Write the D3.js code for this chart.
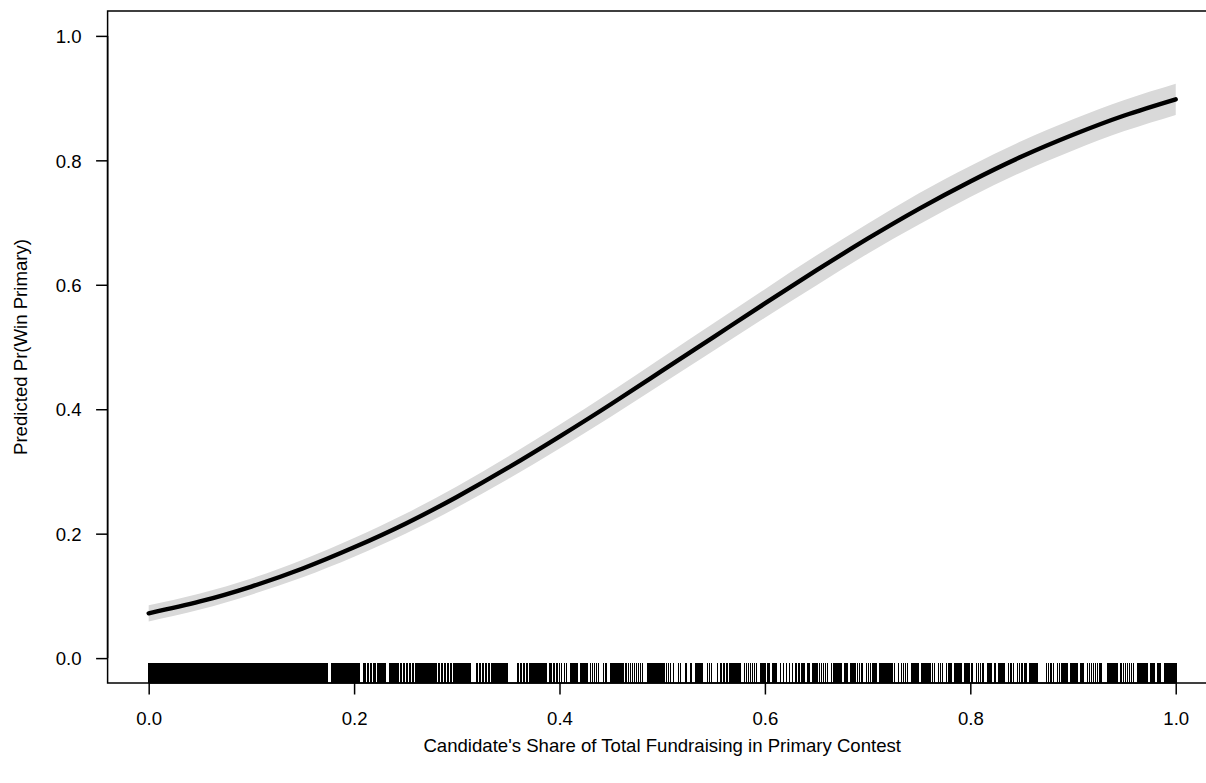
<!DOCTYPE html>
<html>
<head>
<meta charset="utf-8">
<script src="https://cdn.jsdelivr.net/npm/d3@7"></script>
<style>
  html, body { margin: 0; padding: 0; background: #fff; }
  svg { display: block; }
  text { font-family: "Liberation Sans", Arial, sans-serif; fill: #000; }
</style>
</head>
<body>
<div id="chart"></div>
<script>
// ---- data ----
const fundShare = [0, .05, .1, .15, .2, .25, .3, .35, .4, .45, .5, .55, .6, .65, .7, .75, .8, .85, .9, .95, 1];
const predWin   = [.072, .091, .115, .144, .178, .216, .259, .306, .356, .408, .462, .516, .570, .623, .674, .722, .766, .806, .841, .872, .898];
const ciLower   = [.059, .078, .102, .130, .163, .200, .242, .288, .337, .388, .441, .494, .547, .599, .650, .697, .741, .781, .816, .847, .873];
const ciUpper   = [.085, .104, .128, .158, .193, .232, .276, .324, .375, .428, .483, .538, .593, .647, .698, .747, .791, .831, .866, .897, .923];
const xTickValues = [0, 0.2, 0.4, 0.6, 0.8, 1.0];
const yTickValues = [0, 0.2, 0.4, 0.6, 0.8, 1.0];
const xTitle = "Candidate's Share of Total Fundraising in Primary Contest";
const yTitle = "Predicted Pr(Win Primary)";
// observed fundraising shares (rug)
const rugShare = [
.000,.001,.002,.003,.004,.005,.006,.007,.008,.009,.010,.011,.012,.013,.014,.015,.016,.017,.018,.019,
.020,.021,.022,.023,.024,.025,.026,.027,.028,.029,.030,.031,.032,.033,.034,.035,.036,.037,.038,.039,
.040,.041,.042,.043,.044,.045,.046,.047,.048,.049,.050,.051,.052,.053,.054,.055,.056,.057,.058,.059,
.060,.061,.062,.063,.064,.065,.066,.067,.068,.069,.070,.071,.072,.073,.074,.075,.076,.077,.078,.079,
.080,.081,.082,.083,.084,.085,.086,.087,.088,.089,.090,.091,.092,.093,.094,.095,.096,.097,.098,.099,
.100,.101,.102,.103,.104,.105,.106,.107,.108,.109,.110,.111,.112,.113,.114,.115,.116,.117,.118,.119,
.120,.121,.122,.123,.124,.125,.126,.127,.128,.129,.130,.131,.132,.133,.134,.135,.136,.137,.138,.139,
.140,.141,.142,.143,.144,.145,.146,.147,.148,.149,.150,.151,.152,.153,.154,.155,.156,.157,.158,.159,
.160,.161,.162,.163,.164,.165,.166,.167,.168,.169,.170,.171,.172,.173,.174,.178,.179,
.180,.181,.182,.183,.184,.185,.186,.187,.188,.189,.190,.191,.192,.193,.194,.195,.196,.197,.198,.199,
.200,.201,.202,.203,.204,.205,.209,.210,.211,.213,.214,.216,.217,.219,.220,.221,.223,.224,.226,.227,.229,.230,
.235,.236,.238,.239,.241,.242,.243,.245,.246,.248,.249,.251,.252,.254,.255,.257,.258,.260,.261,.263,.264,.265,
.267,.268,.270,.271,.273,.274,.276,.277,.279,.280,.282,.283,.285,.286,.288,.289,.291,.292,.294,.295,.297,.298,
.300,.301,.303,.304,.306,.307,.309,.310,.312,.313,.319,.320,.322,.323,.325,.326,.328,.329,.331,.332,.334,.335,
.337,.338,.340,.341,.343,.344,.346,.347,.349,.359,.360,.362,.363,.365,.366,.368,.369,.371,.372,.374,.375,.377,
.378,.380,.381,.383,.384,.386,.387,.391,.392,.394,.395,.397,.398,.400,
.402,.405,.407,.411,.413,.415,.417,.421,.423,.425,.427,.430,.432,.434,.436,.438,.443,.445,.450,.452,.454,.456,
.458,.460,.462,.465,.467,.469,.471,.473,.475,.477,.479,.481,.486,.488,.490,.492,.494,.496,.498,.500,.502,.504,
.506,.508,.511,.516,.518,.523,.528,.533,.535,.537,.539,.544,.546,.548,.554,.557,.560,.563,.566,.568,.570,.572,
.574,.576,.580,.582,.584,.586,.588,.590,.592,.596,.598,.600,
.603,.604,.608,.610,.611,.615,.618,.621,.624,.627,.630,.633,.636,.638,.642,.643,.647,.649,.651,.653,.655,.657,
.659,.661,.665,.667,.669,.671,.673,.674,.678,.680,.684,.686,.688,.690,.692,.694,.695,.699,.701,.703,.705,.707,
.708,.712,.714,.716,.718,.720,.722,.724,.726,.730,.733,.735,.737,.739,.743,.745,.747,.749,.753,.755,.757,.759,
.761,.763,.765,.769,.771,.773,.777,.779,.781,.785,.787,.789,.791,.795,.797,.799,
.801,.802,.806,.808,.810,.812,.813,.817,.819,.820,.824,.828,.830,.831,.833,.837,.839,.840,.842,.846,.848,.850,
.851,.853,.854,.858,.860,.862,.864,.865,.874,.876,.878,.879,.881,.885,.887,.889,.891,.893,.894,.898,.900,.902,
.904,.908,.910,.914,.916,.918,.920,.922,.924,.926,.927,.934,.936,.938,.940,.942,.943,.947,.949,.951,.953,.955,
.957,.959,.963,.965,.967,.969,.971,.972,.976,.978,.979,.983,.984,.985,.989,.990,.991,.992,.993,.994,.995,.996,
.997,.998,.999,1
];

// ---- layout ----
const W = 1206, H = 783;
const plotLeft = 107.6, plotRight = 1216.8, plotTop = 11, plotBottom = 683;

const x = d3.scaleLinear().domain([-0.04, 1.04]).range([plotLeft, plotRight]);
const y = d3.scaleLinear().domain([-0.04, 1.04]).range([plotBottom, plotTop]);

const svg = d3.select("#chart").append("svg")
  .attr("width", W).attr("height", H)
  .attr("viewBox", `0 0 ${W} ${H}`);

svg.append("rect").attr("width", W).attr("height", H).attr("fill", "#fff");

const pts = fundShare.map((v, i) => ({ v, p: predWin[i], lo: ciLower[i], hi: ciUpper[i] }));

// confidence band
svg.append("path")
  .datum(pts)
  .attr("fill", "#d9d9d9")
  .attr("stroke", "none")
  .attr("d", d3.area()
    .x(d => x(d.v))
    .y0(d => y(d.lo))
    .y1(d => y(d.hi))
    .curve(d3.curveNatural));

// predicted line
svg.append("path")
  .datum(pts)
  .attr("fill", "none")
  .attr("stroke", "#000")
  .attr("stroke-width", 4.4)
  .attr("stroke-linecap", "round")
  .attr("d", d3.line()
    .x(d => x(d.v))
    .y(d => y(d.p))
    .curve(d3.curveNatural));

// rug
const rugLen = 0.03 * (plotBottom - plotTop);
svg.append("g")
  .attr("shape-rendering", "crispEdges")
  .selectAll("line")
  .data(rugShare)
  .join("line")
  .attr("x1", d => x(d)).attr("x2", d => x(d))
  .attr("y1", plotBottom).attr("y2", plotBottom - rugLen)
  .attr("stroke", "#000")
  .attr("stroke-width", 1.6);

// axes
const tickLen = 11.5;
const xAxis = d3.axisBottom(x).tickValues(xTickValues).tickFormat(d3.format(".1f"))
  .tickSize(tickLen).tickPadding(8);
const gx = svg.append("g").attr("transform", `translate(0,${plotBottom})`).call(xAxis);
gx.select(".domain").attr("d", `M${x(0)},0H${x(1)}`).attr("stroke", "#000").attr("stroke-width", 1.5);
gx.selectAll(".tick line").attr("stroke", "#000").attr("stroke-width", 1.5);
gx.selectAll(".tick text").attr("font-size", 18.6)
  .attr("font-family", "Liberation Sans, Arial, sans-serif").attr("fill", "#000")
  .attr("dy", null).attr("y", 42);

const yAxis = d3.axisLeft(y).tickValues(yTickValues).tickFormat(d3.format(".1f"))
  .tickSize(tickLen).tickPadding(8);
const gy = svg.append("g").attr("transform", `translate(${plotLeft},0)`).call(yAxis);
gy.select(".domain").attr("d", `M0,${y(0)}V${y(1)}`).attr("stroke", "#000").attr("stroke-width", 1.5);
gy.selectAll(".tick line").attr("stroke", "#000").attr("stroke-width", 1.5);
gy.selectAll(".tick text").attr("font-size", 18.6)
  .attr("font-family", "Liberation Sans, Arial, sans-serif").attr("fill", "#000")
  .attr("x", -26).attr("dy", "0.36em");

// plot box
svg.append("rect")
  .attr("x", plotLeft).attr("y", plotTop)
  .attr("width", plotRight - plotLeft).attr("height", plotBottom - plotTop)
  .attr("fill", "none").attr("stroke", "#000").attr("stroke-width", 1.5);

// titles
svg.append("text")
  .attr("x", (plotLeft + plotRight) / 2).attr("y", 752)
  .attr("text-anchor", "middle").attr("font-size", 18.6)
  .text(xTitle);

svg.append("text")
  .attr("transform", `translate(27,${(plotTop + plotBottom) / 2}) rotate(-90)`)
  .attr("text-anchor", "middle").attr("font-size", 18.6)
  .text(yTitle);
</script>
</body>
</html>
